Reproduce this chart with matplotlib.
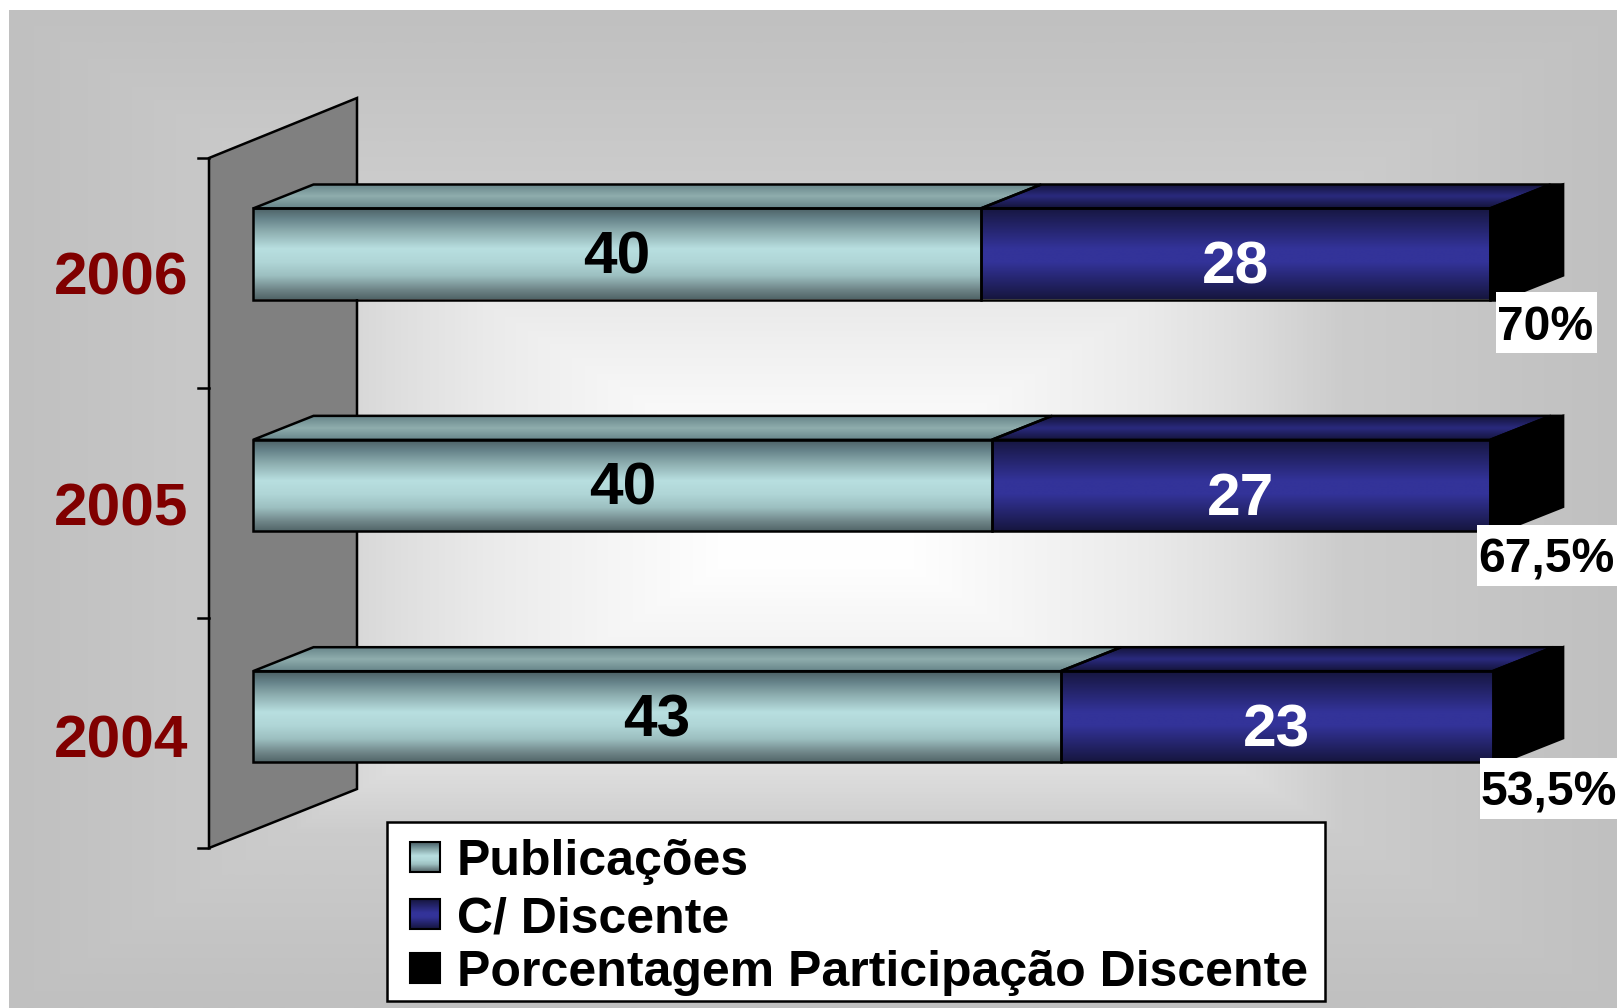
import numpy as np
import matplotlib
matplotlib.use('Agg')
import matplotlib.pyplot as plt
from matplotlib.colors import LinearSegmentedColormap
from matplotlib.patches import Polygon, Rectangle

plt.rcParams['font.family'] = ['Liberation Sans', 'DejaVu Sans']
plt.rcParams['font.weight'] = 'bold'

anos = ['2004', '2005', '2006']
publicacoes = [43, 40, 40]
discente = [23, 27, 28]
porcentagem = [0.535, 0.675, 0.70]
rotulos_pct = ['53,5%', '67,5%', '70%']
legenda = ['Publicações', 'C/ Discente', 'Porcentagem Participação Discente']

W, H = 1617, 1008
fig = plt.figure(figsize=(W / 100, H / 100), dpi=100, facecolor='white')

# fundo e parede em pixels
bg = fig.add_axes([0, 0, 1, 1], zorder=0)
bg.set_xlim(0, W)
bg.set_ylim(H, 0)
bg.axis('off')

cmap_bg = LinearSegmentedColormap.from_list('bg', [
    (0, '#ffffff'), (0.12, '#fefefe'), (0.3, '#f2f2f2'), (0.41, '#eaeaea'), (0.53, '#dddddd'),
    (0.65, '#cccccc'), (0.9, '#c3c3c3'), (1, '#c0c0c0')])
yy, xx = np.mgrid[10:H, 9:W]
dist = np.maximum(np.abs(xx - 815) / 810, np.abs(yy - 508) / 500)
bg.imshow(dist, extent=(9, W, H, 10), cmap=cmap_bg, vmin=0, vmax=1, aspect='auto', interpolation='bilinear')
bg.set_xlim(0, W)
bg.set_ylim(H, 0)

bg.add_patch(Polygon([(209, 158), (357, 98), (357, 789), (209, 848)], closed=True,
                     facecolor='#808080', edgecolor='black', lw=1.8))
for ty in [158, 388, 618, 848]:
    bg.plot([198, 209], [ty, ty], color='black', lw=1.8)

# barras
ax = fig.add_axes([0, 0, 1, 1], zorder=1)
ax.patch.set_alpha(0)
esc_x = 1249.6
esc_y = 231.35
ax.set_xlim(-253 / esc_x, (W - 253) / esc_x)
ax.set_ylim(-(H - 716.7) / esc_y, 716.7 / esc_y)
ax.axis('off')
prof_x = 60.5 / esc_x
prof_y = 24 / esc_y
alt = 91 / esc_y

cm_claro = LinearSegmentedColormap.from_list('c', [(0, '#4b5f63'), (0.12, '#66838a'), (0.25, '#8aaaac'), (0.45, '#b8dfe0'),
                                                   (0.6, '#b0d6d7'), (0.75, '#9cbfc0'), (0.9, '#6f8588'), (1, '#526669')])
cm_claro_top = LinearSegmentedColormap.from_list('ct', [(0, '#67858a'), (0.5, '#8fadad'), (1, '#67858a')])
cm_azul = LinearSegmentedColormap.from_list('a', [(0, '#16163f'), (0.45, '#333399'), (0.6, '#333399'), (1, '#16163f')])
cm_azul_top = LinearSegmentedColormap.from_list('at', [(0, '#14143a'), (0.5, '#2a2a7e'), (1, '#14143a')])


def pinta(eixo, pontos, cmap):
    xs = [p[0] for p in pontos]
    ys = [p[1] for p in pontos]
    grad = np.linspace(0, 1, 128).reshape(-1, 1)
    im = eixo.imshow(grad, extent=(min(xs), max(xs), min(ys), max(ys)), cmap=cmap, aspect='auto',
                     origin='upper', interpolation='bilinear')
    pol = Polygon(pontos, closed=True, facecolor='none', edgecolor='black', lw=1.8)
    eixo.add_patch(pol)
    im.set_clip_path(pol)


xlim, ylim = ax.get_xlim(), ax.get_ylim()
caixa_esq = [1480, 1477, 1496]
caixa_larg = [137, 140, 101]
caixa_dy = [71.3, 70, 68.5]
for i, ano in enumerate(anos):
    total = publicacoes[i] + discente[i] + porcentagem[i]
    a = publicacoes[i] / total
    b = (publicacoes[i] + discente[i]) / total
    y0, y1 = i - alt / 2, i + alt / 2
    # topo
    pinta(ax, [(0, y1), (a, y1), (a + prof_x, y1 + prof_y), (prof_x, y1 + prof_y)], cm_claro_top)
    pinta(ax, [(a, y1), (b, y1), (b + prof_x, y1 + prof_y), (a + prof_x, y1 + prof_y)], cm_azul_top)
    ax.add_patch(Polygon([(b, y1), (1, y1), (1 + prof_x, y1 + prof_y), (b + prof_x, y1 + prof_y)],
                         closed=True, facecolor='black', edgecolor='black', lw=1.8))
    # lado direito
    ax.add_patch(Polygon([(1, y0), (1, y1), (1 + prof_x, y1 + prof_y), (1 + prof_x, y0 + prof_y)],
                         closed=True, facecolor='black', edgecolor='black', lw=1.8))
    # frente
    pinta(ax, [(0, y0), (a, y0), (a, y1), (0, y1)], cm_claro)
    pinta(ax, [(a, y0), (b, y0), (b, y1), (a, y1)], cm_azul)
    ax.add_patch(Rectangle((b, y0), 1 - b, y1 - y0, facecolor='black', edgecolor='black', lw=1.8))

    ax.text(a / 2, i + 2 / esc_y, str(publicacoes[i]), color='black', fontsize=43.5,
            ha='center', va='center_baseline')
    ax.text((a + b) / 2, i - 8 / esc_y, str(discente[i]), color='white', fontsize=43.5,
            ha='center', va='center_baseline')
    ax.text(-132 / esc_x, i - 19 / esc_y, ano, color='#800000', fontsize=43.5,
            ha='center', va='center_baseline')
    # rotulo da porcentagem com caixa branca
    x_cx = (caixa_esq[i] - 253) / esc_x
    y_cx = i - caixa_dy[i] / esc_y
    ax.add_patch(Rectangle((x_cx, y_cx - 30.5 / esc_y), caixa_larg[i] / esc_x, 61 / esc_y,
                           facecolor='white', edgecolor='none', zorder=4))
    ax.text(x_cx + 1 / esc_x, y_cx, rotulos_pct[i], color='black', fontsize=34.6,
            ha='left', va='center_baseline', zorder=5)
ax.set_xlim(xlim)
ax.set_ylim(ylim)

# legenda
lg = fig.add_axes([0, 0, 1, 1], zorder=2)
lg.patch.set_alpha(0)
lg.set_xlim(0, W)
lg.set_ylim(H, 0)
lg.axis('off')
lg.add_patch(Rectangle((387, 822), 938, 179, facecolor='white', edgecolor='black', lw=1.8, zorder=0))
cores = [cm_claro, cm_azul, None]
topos = [842, 899, 953]
bases = [875, 932, 986]
for nome, cor, t, b in zip(legenda, cores, topos, bases):
    if cor is None:
        lg.add_patch(Rectangle((410, t), 30, 30, facecolor='black', edgecolor='black', lw=1.5, zorder=3))
    else:
        grad = np.linspace(0, 1, 64).reshape(-1, 1)
        lg.imshow(grad, extent=(410, 440, t + 30, t), cmap=cor, aspect='auto', interpolation='bilinear', zorder=2)
        lg.add_patch(Rectangle((410, t), 30, 30, facecolor='none', edgecolor='black', lw=1.5, zorder=3))
    lg.text(457, b, nome, color='black', fontsize=36, ha='left', va='baseline', zorder=3)
lg.set_xlim(0, W)
lg.set_ylim(H, 0)

fig.savefig('out.png', dpi=100)
